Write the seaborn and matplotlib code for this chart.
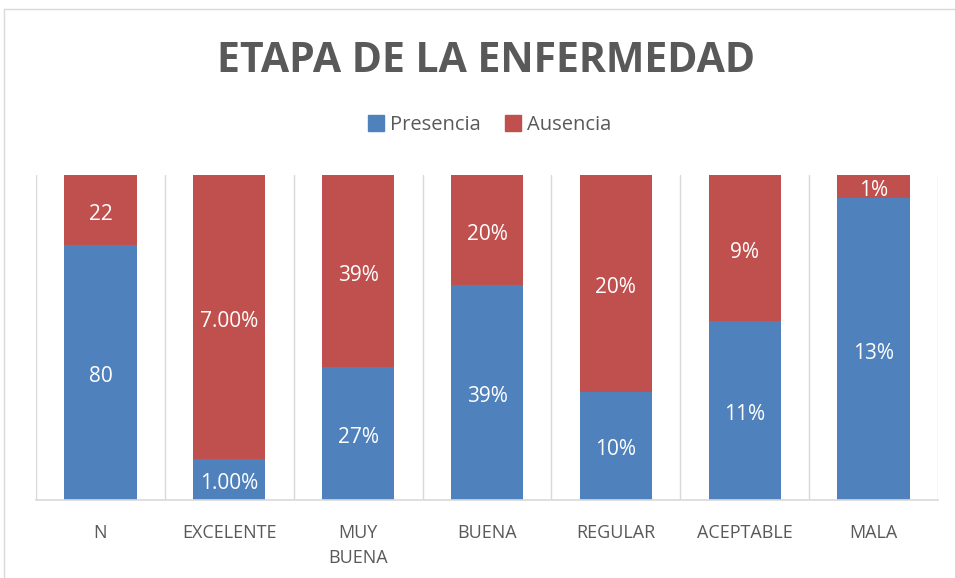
import matplotlib
matplotlib.use("Agg")
import matplotlib.pyplot as plt
import seaborn as sns
import pandas as pd
import numpy as np
from matplotlib.patches import Rectangle

categories = ["N", "EXCELENTE", "MUY\nBUENA", "BUENA", "REGULAR", "ACEPTABLE", "MALA"]
presencia = [80, 1.00, 27, 39, 10, 11, 13]
ausencia = [22, 7.00, 39, 20, 20, 9, 1]
presencia_labels = ["80", "1.00%", "27%", "39%", "10%", "11%", "13%"]
ausencia_labels = ["22", "7.00%", "39%", "20%", "20%", "9%", "1%"]

blue = "#4F81BD"
red = "#C0504D"
gray = "#595959"

sns.set_theme(style="white")
plt.rcParams['font.family'] = ['Open Sans', 'DejaVu Sans']

pres = np.array(presencia, dtype=float)
aus = np.array(ausencia, dtype=float)
tot = pres + aus
df = pd.DataFrame({
    "cat": categories,
    "pres": pres / tot,
    "total": (pres + aus) / tot,
})

fig = plt.figure(figsize=(9.55, 5.78), dpi=100)
fig.patches.append(Rectangle((4/955, -0.01), 1.0, 1 - 9/578 + 0.01, transform=fig.transFigure,
                             fill=False, edgecolor="#D9D9D9", linewidth=1.0))
ax = fig.add_axes([36/955, 1 - 500/578, (938 - 36)/955, (500 - 175)/578])

sns.barplot(data=df, x="cat", y="total", color=red, width=0.56, saturation=1, ax=ax, linewidth=0)
sns.barplot(data=df, x="cat", y="pres", color=blue, width=0.56, saturation=1, ax=ax, linewidth=0)

ax.set_xlim(-0.5, len(categories) - 0.5)
ax.set_ylim(0, 1)
ax.set_xlabel("")
ax.set_ylabel("")
ax.set_yticks([])
ax.set_xticks(range(len(categories)))
ax.set_xticklabels(categories, fontsize=13, color=gray, linespacing=1.5)
ax.tick_params(axis="x", length=0, pad=17)
ax.set_xticks(np.arange(-0.5, len(categories), 1), minor=True)
ax.tick_params(axis="x", which="minor", length=0)
ax.grid(False)
ax.grid(True, axis="x", which="minor", color="#D9D9D9", linewidth=1)
ax.set_axisbelow(True)
for s in ["top", "right", "left"]:
    ax.spines[s].set_visible(False)
ax.spines["bottom"].set_color("#D9D9D9")
ax.spines["bottom"].set_linewidth(1.2)

dy = -4 / 325
for i in range(len(categories)):
    p = df["pres"].iloc[i]
    ax.text(i, p / 2 + dy, presencia_labels[i], ha="center", va="center", color="white", fontsize=15)
    ax.text(i, p + (1 - p) / 2 + dy, ausencia_labels[i], ha="center", va="center", color="white", fontsize=15)

fig.text(486/955, 1 - 61/578, "ETAPA DE LA ENFERMEDAD", ha="center", va="center",
         fontsize=29.5, fontweight="bold", color=gray)

handles = [Rectangle((0, 0), 1, 1, color=blue), Rectangle((0, 0), 1, 1, color=red)]
fig.legend(handles, ["Presencia", "Ausencia"], loc="center", bbox_to_anchor=(490/955, 1 - 125/578),
           ncol=2, frameon=False, fontsize=14.5, handlelength=0.8, handleheight=0.8,
           handletextpad=0.3, columnspacing=1.2, labelcolor=gray)

fig.savefig("out.png", dpi=100)
